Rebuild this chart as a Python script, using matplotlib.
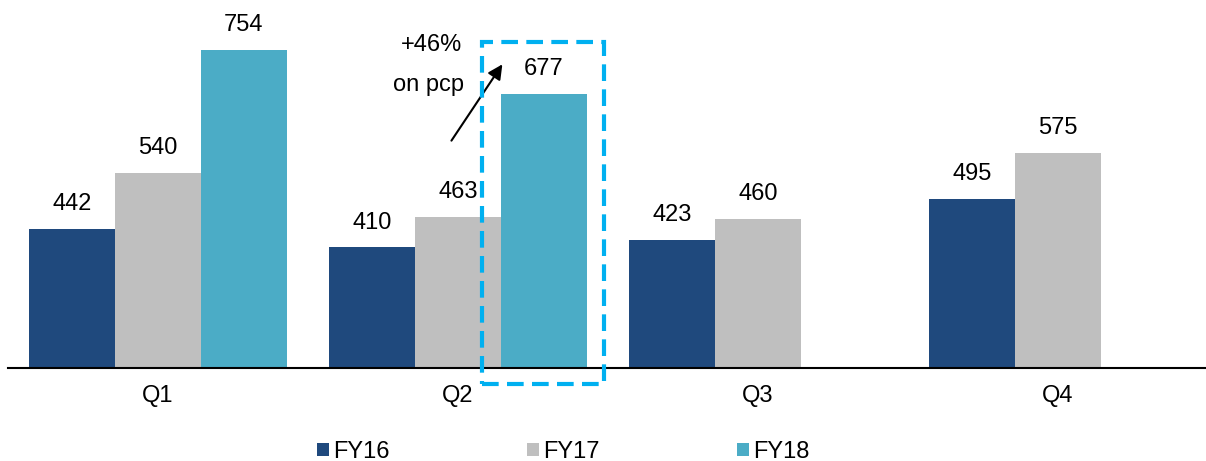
import matplotlib
matplotlib.use("Agg")
import matplotlib.pyplot as plt
import numpy as np
from matplotlib.patches import Rectangle

plt.rcParams["font.family"] = ["Liberation Sans", "DejaVu Sans"]

quarters = ["Q1", "Q2", "Q3", "Q4"]
series = ["FY16", "FY17", "FY18"]
fy16 = [442, 410, 423, 495]
fy17 = [540, 463, 460, 575]
fy18 = [754, 677, np.nan, np.nan]
colors = ["#1F497D", "#BFBFBF", "#4BACC6"]

fig = plt.figure(figsize=(12.06, 4.61), dpi=100)
ax = fig.add_axes([8 / 1206, 93 / 461, 1200 / 1206, 368 / 461])

x = np.arange(len(quarters))
w = 0.286
bars = []
for i, (name, vals, col) in enumerate(zip(series, [fy16, fy17, fy18], colors)):
    b = ax.bar(x + (i - 1) * w, vals, w, bottom=0, color=col, label=name)
    labels = ["" if np.isnan(v) else f"{v:.0f}" for v in vals]
    ax.bar_label(b, labels=labels, padding=10, fontsize=17)
    bars.append(b)

ax.set_xlim(-0.5, 3.5)
ax.set_ylim(200, 841)
ax.set_yticks([])
ax.set_xticks(x)
ax.set_xticklabels(quarters, fontsize=17)
ax.tick_params(axis="x", length=0, pad=12)
for s in ["top", "right", "left"]:
    ax.spines[s].set_visible(False)
ax.spines["bottom"].set_linewidth(1.5)

# highlight box around Q2 FY18
box = Rectangle((1.079, 172), 0.406, 596, fill=False, edgecolor="#00B0F0",
                linewidth=3, linestyle=(0, (4, 2)), clip_on=False, zorder=5)
ax.add_patch(box)

ax.annotate("", xy=(1.153, 733), xytext=(0.973, 592),
            arrowprops=dict(arrowstyle="-|>", color="black", lw=1.5,
                            mutation_scale=22))
ax.text(0.913, 763, "+46%", fontsize=17, ha="center", va="center")
ax.text(0.903, 693, "on pcp", fontsize=17, ha="center", va="center")

fig.legend(handles=bars, labels=series, loc="center",
           bbox_to_anchor=(0.467, 0.0195), ncol=3, frameon=False,
           fontsize=17, handlelength=0.5, handleheight=0.5,
           handletextpad=0.2, columnspacing=5.8)

fig.savefig("out.png", dpi=100)
